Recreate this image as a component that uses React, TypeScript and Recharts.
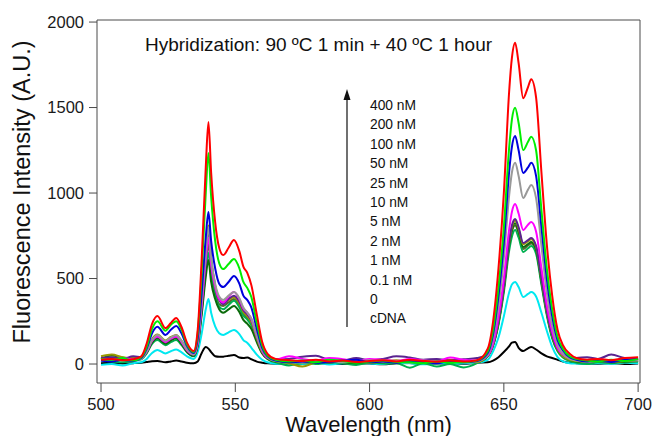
import * as React from "react";
import { LineChart, Line, XAxis, YAxis, Label } from "recharts";

// wavelength grid (nm), denser around the emission peaks
const wavelength = [
  500, 504, 508, 512, 515,
  517, 519, 521, 524, 526, 528, 530, 532, 534.5,
  536, 537.5, 539, 540, 541, 542.5, 544, 545.5, 547.5, 549.5, 551.5, 553, 554.5, 556, 558, 560, 562, 565,
  570, 575, 580, 585, 590, 595, 600, 605, 610, 615, 620, 625, 630, 635, 640, 644,
  646, 648, 650, 652, 653, 654.2, 655.5, 657.2, 659, 660.2, 662, 664, 666, 668, 670, 672, 674.5, 677,
  681, 685, 690, 695, 700,
];

const nM400 = [
  25, 30, 22, 28, 45,
  120, 235, 281, 210, 240, 269, 215, 125, 76,
  200, 620, 1150, 1415, 1120, 830, 680, 637, 680, 725, 660, 570, 532, 460, 290, 130, 60, 30,
  22, 18, 25, 15, 20, 12, 18, 22, 15, 25, 18, 14, 20, 15, 22, 90,
  250, 560, 1000, 1600, 1790, 1879, 1760, 1555, 1620, 1666, 1560, 1120, 700, 400, 200, 110, 60, 35,
  25, 30, 22, 35, 40,
];
const nM200 = [
  30, 25, 35, 20, 40,
  100, 205, 250, 195, 230, 250, 200, 115, 70,
  180, 540, 1000, 1234, 980, 720, 590, 555, 585, 614, 560, 480, 444, 390, 240, 110, 50, 25,
  15, 20, 10, 25, 18, 8, 15, 20, 12, 10, 5, 15, 8, 10, 20, 75,
  200, 450, 800, 1270, 1430, 1499, 1410, 1251, 1300, 1329, 1250, 900, 560, 320, 160, 90, 45, 30,
  20, 15, 25, 18, 30,
];
const nM100 = [
  20, 15, 25, 18, 35,
  90, 180, 218, 170, 200, 222, 178, 105, 65,
  150, 420, 740, 889, 720, 560, 470, 450, 480, 515, 470, 400, 374, 330, 205, 95, 45, 20,
  10, 15, 8, 12, 20, 25, 10, 15, 8, 18, 12, 5, 15, 10, 18, 65,
  175, 400, 710, 1130, 1270, 1333, 1250, 1117, 1150, 1177, 1100, 800, 500, 280, 140, 80, 40, 25,
  15, 20, 12, 25, 30,
];
const nM50 = [
  22, 18, 28, 20, 30,
  75, 140, 170, 135, 155, 168, 135, 85, 55,
  130, 370, 660, 800, 620, 470, 395, 375, 400, 421, 385, 330, 300, 265, 165, 80, 40, 18,
  12, 8, 15, 20, 10, 14, 22, 12, 16, 8, 20, 12, 18, 10, 15, 55,
  150, 340, 620, 990, 1120, 1177, 1100, 971, 1020, 1047, 970, 690, 420, 225, 112, 60, 30, 20,
  12, 18, 15, 22, 20,
];
const nM25 = [
  30, 25, 35, 28, 38,
  72, 135, 160, 128, 148, 160, 128, 80, 55,
  120, 340, 610, 740, 580, 450, 380, 360, 395, 421, 380, 325, 300, 262, 165, 78, 38, 25,
  45, 30, 20, 35, 28, 15, 30, 25, 18, 30, 22, 15, 38, 25, 20, 50,
  120, 275, 500, 790, 890, 936, 880, 784, 815, 830, 775, 560, 345, 190, 95, 55, 35, 25,
  20, 28, 18, 30, 25,
];
const nM10 = [
  35, 40, 30, 45, 40,
  75, 140, 165, 130, 152, 165, 130, 82, 58,
  125, 350, 630, 766, 600, 455, 375, 350, 380, 400, 365, 315, 290, 255, 160, 75, 38, 28,
  30, 42, 48, 25, 20, 35, 22, 30, 45, 38, 25, 30, 20, 28, 35, 55,
  120, 255, 460, 720, 810, 848, 800, 708, 725, 737, 690, 500, 310, 170, 90, 55, 40, 35,
  40, 30, 55, 35, 30,
];
const nM5 = [
  45, 55, 40, 35, 42,
  78, 145, 172, 138, 158, 170, 135, 85, 58,
  130, 370, 670, 810, 620, 460, 380, 360, 375, 390, 355, 305, 280, 245, 150, 70, 35, 18,
  5, -15, 10, 18, 12, 20, 8, 15, 22, 10, 18, 12, 25, 15, 10, 50,
  118, 250, 455, 715, 800, 840, 790, 700, 718, 730, 685, 495, 305, 165, 85, 45, 25, 18,
  15, 20, 12, 18, 22,
];
const nM2 = [
  30, 50, 38, 30, 35,
  68, 125, 150, 118, 138, 150, 118, 72, 48,
  105, 290, 510, 608, 480, 380, 320, 300, 320, 340, 305, 258, 235, 205, 128, 62, 30, 15,
  10, 15, 8, 20, 12, 5, 15, 10, 18, 12, 8, 15, 10, 20, 12, 48,
  112, 240, 440, 700, 785, 824, 775, 684, 702, 713, 670, 485, 300, 160, 82, 45, 25, 15,
  12, 18, 10, 15, 20,
];
const nM1 = [
  20, 15, 10, 18, 28,
  62, 118, 140, 110, 128, 140, 110, 68, 45,
  110, 310, 545, 650, 510, 395, 335, 320, 345, 370, 332, 282, 260, 225, 140, 66, 30, 10,
  -8, 5, 0, 10, 5, -5, 8, 3, 5, -22, 5, -15, 0, -20, 5, 45,
  108, 230, 420, 665, 745, 784, 740, 655, 677, 690, 645, 465, 285, 150, 75, 38, 18, 8,
  0, 10, 5, 12, 15,
];
const nM01 = [
  28, 35, 30, 25, 33,
  70, 132, 155, 122, 142, 155, 122, 76, 52,
  115, 320, 580, 700, 550, 420, 350, 340, 360, 380, 345, 295, 270, 235, 145, 68, 32, 15,
  12, 20, 15, 8, 22, 15, 10, 18, 12, 20, 8, 14, 22, 12, 15, 48,
  112, 240, 445, 700, 775, 810, 765, 672, 693, 705, 660, 478, 295, 158, 80, 42, 22, 15,
  12, 15, 20, 10, 18,
];
const nM0 = [
  -5, 0, -8, 5, 10,
  30, 65, 82, 62, 75, 85, 68, 45, 30,
  70, 180, 320, 380, 300, 220, 180, 170, 185, 199, 175, 140, 123, 95, 55, 25, 10, 2,
  5, 0, 8, -3, 5, 10, 3, 0, 8, 5, -2, 6, 0, 4, 8, 25,
  75, 155, 280, 420, 465, 480, 450, 392, 410, 421, 395, 300, 195, 100, 40, 15, 5, 3,
  0, 5, 2, 8, 5,
];
const cDNA = [
  5, 8, 3, 5, 8,
  12, 16, 18, 10, 15, 20, 15, 8, 5,
  15, 65, 99, 90, 70, 45, 42, 43, 48, 53, 38, 35, 38, 28, 14, 8, 4, 2,
  5, 3, 8, 2, 0, 5, 3, -2, 4, 6, 0, 3, 5, 2, 8, 10,
  20, 40, 70, 105, 125, 129, 95, 76, 92, 99, 85, 62, 45, 35, 25, 15, 8, 5,
  3, 2, 5, 0, 3,
];

// drawn bottom-up so that 400 nM ends on top
const series = [
  { key: "cDNA", values: cDNA, color: "#000000" },
  { key: "0", values: nM0, color: "#00e8f0" },
  { key: "0.1 nM", values: nM01, color: "#556b2f" },
  { key: "1 nM", values: nM1, color: "#00b050" },
  { key: "2 nM", values: nM2, color: "#0b6b0b" },
  { key: "5 nM", values: nM5, color: "#9a9a00" },
  { key: "10 nM", values: nM10, color: "#5a2390" },
  { key: "25 nM", values: nM25, color: "#ff00ff" },
  { key: "50 nM", values: nM50, color: "#999999" },
  { key: "100 nM", values: nM100, color: "#0000dd" },
  { key: "200 nM", values: nM200, color: "#00ee00" },
  { key: "400 nM", values: nM400, color: "#ff0000" },
];

const legendLabels = ["400 nM", "200 nM", "100 nM", "50 nM", "25 nM", "10 nM", "5 nM", "2 nM", "1 nM", "0.1 nM", "0", "cDNA"];
const xTicks = [500, 550, 600, 650, 700];
const yTicks = [0, 500, 1000, 1500, 2000];

const FONT = "'Liberation Sans', Arial, Helvetica, sans-serif";
const AXIS = "#4a4a4a";

export default function App(): JSX.Element {
  const data = React.useMemo(
    () =>
      wavelength.map((w, i) => {
        const row: Record<string, number> = { w };
        for (const s of series) row[s.key] = s.values[i]!;
        return row;
      }),
    []
  );

  return (
    <div style={{ position: "absolute", left: 0, top: 0, width: 654, height: 436, background: "#fff" }}>
      <LineChart width={654} height={436} data={data} margin={{ top: 10, right: 0, bottom: 0, left: 0 }}>
        <XAxis
          xAxisId="b"
          dataKey="w"
          type="number"
          domain={[498.5, 700.7]}
          allowDataOverflow
          ticks={xTicks}
          height={53}
          tickSize={9}
          tickMargin={6}
          stroke={AXIS}
          tick={{ fill: "#1a1a1a", fontSize: 16.5, fontFamily: FONT }}
        >
          <Label
            value="Wavelength (nm)"
            position="insideBottom"
            offset={4}
            style={{ fontSize: 22, fontFamily: FONT, fill: "#111" }}
          />
        </XAxis>
        <XAxis
          xAxisId="t"
          orientation="top"
          dataKey="w"
          type="number"
          domain={[498.5, 700.7]}
          allowDataOverflow
          ticks={xTicks}
          height={10}
          tickSize={8}
          tick={false}
          stroke={AXIS}
        />
        <YAxis
          yAxisId="l"
          type="number"
          domain={[-111, 2012]}
          allowDataOverflow
          ticks={yTicks}
          width={97}
          tickSize={8}
          tickMargin={5}
          stroke={AXIS}
          tick={{ fill: "#1a1a1a", fontSize: 16.5, fontFamily: FONT }}
        />
        <YAxis
          yAxisId="r"
          orientation="right"
          type="number"
          domain={[-111, 2012]}
          allowDataOverflow
          ticks={yTicks}
          width={14}
          tickSize={8}
          tick={false}
          stroke={AXIS}
        />
        {series.map((s) => (
          <Line
            key={s.key}
            xAxisId="b"
            yAxisId="l"
            type="monotone"
            dataKey={s.key}
            stroke={s.color}
            strokeWidth={2}
            dot={false}
            isAnimationActive={false}
          />
        ))}
        <text
          transform="translate(29.5,192) rotate(-90)"
          textAnchor="middle"
          style={{ fontSize: 23.5, fontFamily: FONT, fill: "#111" }}
        >
          Fluorescence Intensity (A.U.)
        </text>
        <text x={145} y={51} style={{ fontSize: 19, fontFamily: FONT, fill: "#111" }}>
          Hybridization: 90 ºC 1 min + 40 ºC 1 hour
        </text>
        <line x1={347} y1={327} x2={347} y2={98} stroke="#111" strokeWidth={1.2} />
        <polygon points="347,89 343.5,100 350.5,100" fill="#111" />
        {legendLabels.map((t, i) => (
          <text key={t} x={370} y={110 + i * 19.4} style={{ fontSize: 13.8, fontFamily: FONT, fill: "#111" }}>
            {t}
          </text>
        ))}
      </LineChart>
    </div>
  );
}
